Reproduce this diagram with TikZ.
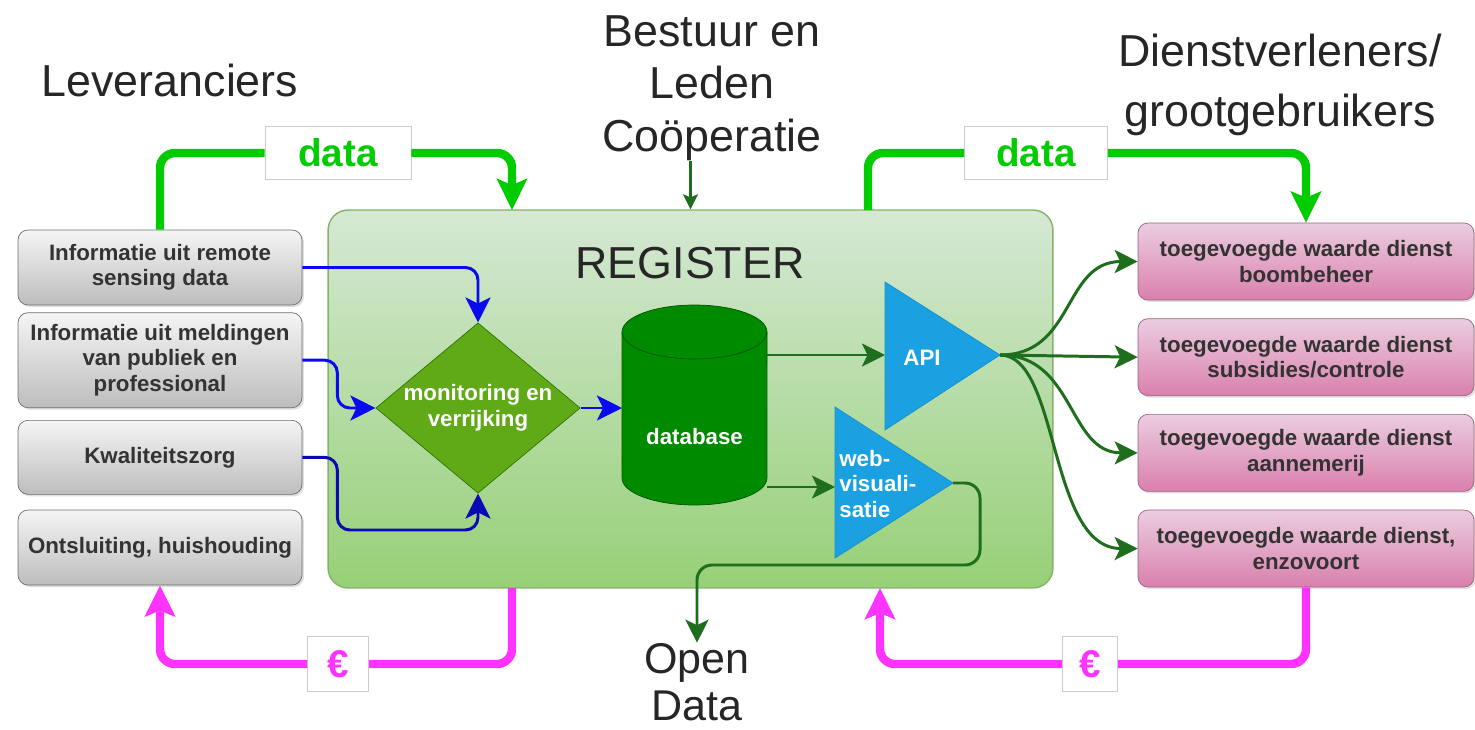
\documentclass[tikz,border=0pt]{standalone}
\usepackage{fontspec}
\setmainfont{Liberation Sans}
\usetikzlibrary{arrows.meta,shapes.geometric,shadows,positioning}

\definecolor{regtop}{HTML}{D5E8D4}
\definecolor{regbot}{HTML}{97D077}
\definecolor{regline}{HTML}{82B366}
\definecolor{levtop}{HTML}{F5F5F5}
\definecolor{levbot}{HTML}{BDBDBD}
\definecolor{levline}{HTML}{6E6E6E}
\definecolor{pktop}{HTML}{EBCDE0}
\definecolor{pkbot}{HTML}{DA80AC}
\definecolor{pkline}{HTML}{996185}
\definecolor{monfill}{HTML}{60A917}
\definecolor{monline}{HTML}{2D7600}
\definecolor{dbfill}{HTML}{008A00}
\definecolor{dbline}{HTML}{005700}
\definecolor{trifill}{HTML}{1BA1E2}
\definecolor{triline}{HTML}{1590CC}
\definecolor{dataclr}{HTML}{00CC00}
\definecolor{moneyclr}{HTML}{FF33FF}
\definecolor{flowblue}{HTML}{0A0AF0}
\definecolor{flowdblue}{HTML}{0A0AB4}
\definecolor{flowgreen}{HTML}{1E6E1E}

\newcommand{\boxfont}{\fontsize{12.7}{14.5}\selectfont\bfseries}

\begin{document}
\begin{tikzpicture}[x=0.02cm,y=-0.02cm,
    every node/.style={inner sep=0pt},
    head/.style={font=\fontsize{25.5}{30}\selectfont,align=center,text=black!85},
    lev/.style={draw=levline,rounded corners=0.2cm,top color=levtop,bottom color=levbot,
      minimum width=5.68cm,align=center,font=\boxfont,text=black!80,
      drop shadow={opacity=0.25,shadow xshift=0.04cm,shadow yshift=-0.04cm}},
    pk/.style={draw=pkline,rounded corners=0.2cm,top color=pktop,bottom color=pkbot,
      minimum width=6.72cm,minimum height=1.54cm,align=center,font=\boxfont,text=black!80,
      drop shadow={opacity=0.25,shadow xshift=0.04cm,shadow yshift=-0.04cm}},
    wtext/.style={font=\boxfont,text=white,align=center},
    lbl/.style={draw=black!20,fill=white,font=\fontsize{22}{24}\selectfont\bfseries,
      minimum height=1.06cm},
    blueflow/.style={draw=flowblue,line width=1.7pt,rounded corners=0.25cm,
      -{Stealth[length=0.5cm,width=0.5cm,inset=0.12cm]}},
    gflow/.style={draw=flowgreen,line width=1.7pt,
      -{Stealth[length=0.46cm,width=0.46cm,inset=0.11cm]}},
    dataflow/.style={draw=dataclr,line width=4.8pt,rounded corners=0.3cm},
    moneyflow/.style={draw=moneyclr,line width=4.8pt,rounded corners=0.3cm},
    bigtip/.style={-{Stealth[length=0.62cm,width=0.6cm,inset=0.12cm]}}]
  \useasboundingbox (0,0) rectangle (1475,730);

  % headings
  \node[head] (lever) at (170,80) {Leveranciers};
  \node[head] (bestuur) at (712,88) {Bestuur en\\Leden\\Coöperatie};
  \node[head,font=\fontsize{25.5}{34}\selectfont] (dienst) at (1280,85) {Dienstverleners/\\grootgebruikers};

  % register
  \node[draw=regline,line width=0.8pt,rounded corners=0.4cm,top color=regtop,bottom color=regbot,
    minimum width=14.5cm,minimum height=7.56cm] (reg) at (690.5,399) {};
  \node[font=\fontsize{25.5}{30}\selectfont,text=black!85] (regtitle) at (690,263) {REGISTER};

  % leveranciers
  \node[lev,minimum height=1.5cm] (lev1) at (160,267.5) {Informatie uit remote\\sensing data};
  \node[lev,minimum height=1.9cm,below=0.14cm of lev1] (lev2) {Informatie uit meldingen\\van publiek en\\professional};
  \node[lev,minimum height=1.48cm,below=0.24cm of lev2] (lev3) {Kwaliteitszorg};
  \node[lev,minimum height=1.5cm,below=0.3cm of lev3] (lev4) {Ontsluiting, huishouding};

  % diensten
  \node[pk] (pk1) at (1306,261.5) {toegevoegde waarde dienst\\boombeheer};
  \node[pk,below=0.36cm of pk1] (pk2) {toegevoegde waarde dienst\\subsidies/controle};
  \node[pk,below=0.36cm of pk2] (pk3) {toegevoegde waarde dienst\\aannemerij};
  \node[pk,below=0.36cm of pk3] (pk4) {toegevoegde waarde dienst,\\enzovoort};

  % monitoring
  \node[diamond,aspect=1.2,fill=monfill,draw=monline,wtext] (mon) at (478,408) {monitoring en\\verrijking};

  % database
  \filldraw[fill=dbfill,draw=dbline] (622,332) -- (622,478)
    arc[start angle=180,end angle=360,x radius=1.45cm,y radius=0.54cm] -- (767,332)
    arc[start angle=0,end angle=180,x radius=1.45cm,y radius=0.54cm] -- cycle;
  \draw[dbline] (622,332) arc[start angle=180,end angle=360,x radius=1.45cm,y radius=0.54cm];
  \node[wtext] (db) at (694.5,437) {database};
  \coordinate (dbIn) at (622,408);
  \coordinate (dbA) at (767,355);
  \coordinate (dbW) at (767,487);

  % API en web-visualisatie
  \filldraw[fill=trifill,draw=triline] (885,282) -- (1000,355) coordinate (apiTip) -- (885,430) -- cycle;
  \node[wtext] (api) at (922,358) {API};
  \coordinate (apiIn) at (885,355);
  \filldraw[fill=trifill,draw=triline] (835,407) -- (953,483) coordinate (webTip) -- (835,558) -- cycle;
  \node[wtext,align=left,anchor=west] (web) at (839,484) {web-\\visuali-\\satie};
  \coordinate (webIn) at (835,487);

  \node[head,font=\fontsize{24.5}{27}\selectfont] (open) at (697,682) {Open\\Data};

  % blauwe stromen
  \draw[blueflow] (lev1.east) -| (mon.north);
  \draw[blueflow] (lev2.east) -- ++(35,0) |- (mon.west);
  \coordinate (monlow) at (478,530);
  \draw[blueflow,draw=flowdblue] (lev3.east) -- ++(35,0) |- (monlow) -- (mon.south);
  \draw[blueflow] (mon.east) -- (dbIn);

  % groene stromen
  \draw[gflow] (dbA) -- (apiIn);
  \draw[gflow] (dbW) -- (webIn);
  \coordinate (odTurn) at (980,565);
  \draw[gflow,rounded corners=0.3cm] (webTip) -| (odTurn) -| (open.north);
  \draw[gflow,line width=1.2pt,-{Stealth[length=0.3cm,width=0.3cm,inset=0.06cm]}]
    (bestuur.south -| reg.north) -- (reg.north);
  \draw[gflow] (apiTip) .. controls +(75,0) and +(-75,0) .. (pk1.west);
  \draw[gflow] (apiTip) -- (pk2.west);
  \draw[gflow] (apiTip) .. controls +(75,0) and +(-70,0) .. (pk3.west);
  \draw[gflow] (apiTip) .. controls +(60,0) and +(-90,0) .. (pk4.west);

  % data
  \node[lbl,text=dataclr,minimum width=2.92cm] (dataL) at (338,153) {data};
  \node[lbl,text=dataclr,minimum width=2.86cm] (dataR) at (1036,153) {data};
  \coordinate (regInL) at (512,210);
  \coordinate (regOutR) at (868,210);
  \draw[dataflow] (lev1.north) |- (dataL.west);
  \draw[dataflow,bigtip] (dataL.east) -| (regInL);
  \draw[dataflow] (regOutR) |- (dataR.west);
  \draw[dataflow,bigtip] (dataR.east) -| (pk1.north);

  % geld
  \node[lbl,text=moneyclr,minimum width=1.22cm,minimum height=1.1cm] (euroL) at (338,664) {€};
  \node[lbl,text=moneyclr,minimum width=1.1cm,minimum height=1.1cm] (euroR) at (1090,664) {€};
  \coordinate (regOutL) at (512,588);
  \coordinate (regInR) at (880,588);
  \draw[moneyflow] (regOutL) |- (euroL.east);
  \draw[moneyflow,bigtip] (euroL.west) -| (lev4.south);
  \draw[moneyflow] (pk4.south) |- (euroR.east);
  \draw[moneyflow,bigtip] (euroR.west) -| (regInR);
\end{tikzpicture}
\end{document}
